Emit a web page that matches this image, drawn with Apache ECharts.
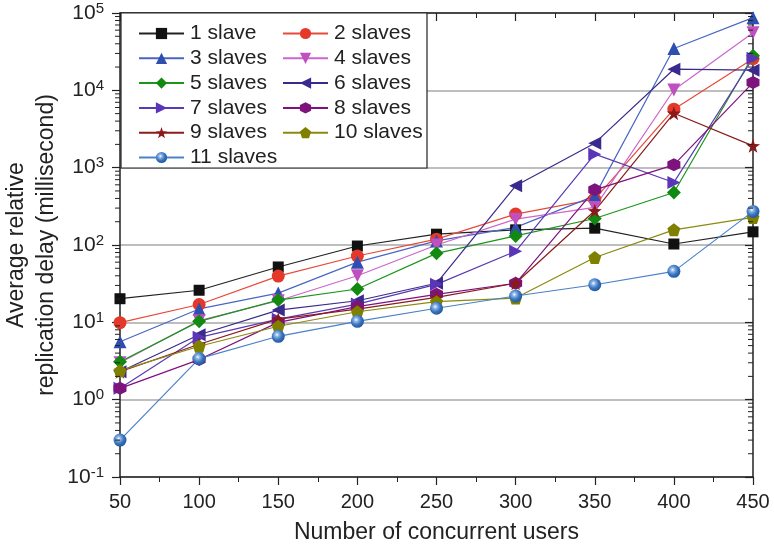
<!DOCTYPE html>
<html><head><meta charset="utf-8">
<script src="https://cdn.jsdelivr.net/npm/echarts@6/dist/echarts.min.js"></script>
<style>html,body{margin:0;padding:0;background:#fff}#c{width:774px;height:550px}</style>
</head><body><div id="c"></div>
<script>
var users = [50, 100, 150, 200, 250, 300, 350, 400, 450];
var s1 = [20.2, 26, 52, 97, 138, 157, 165, 103, 148];
var s2 = [9.9, 17, 39.6, 72, 119, 251, 392, 5700, 25700];
var s3 = [5.6, 14.9, 23.9, 60, 113, 169, 432, 34700, 87000];
var s4 = [3.0, 10.5, 19, 40, 100, 216, 306, 10100, 55700];
var s5 = [3.1, 10.3, 19.4, 27, 78, 131, 220, 478, 28000];
var s6 = [2.3, 6.9, 14.4, 19, 32, 582, 2074, 18750, 18200];
var s7 = [1.4, 6.4, 11, 17.2, 31, 83, 1494, 644, 26000];
var s8 = [1.4, 3.3, 10, 16, 23, 32, 517, 1087, 12600];
var s9 = [2.3, 5.2, 11, 14.8, 21, 32, 277, 5060, 1914];
var s10 = [2.37, 4.9, 8.9, 13.7, 18.5, 20.6, 69, 157, 227];
var s11 = [0.3, 3.4, 6.6, 10.3, 15.2, 21.9, 30.6, 45.6, 272];
var names = ['1 slave','2 slaves','3 slaves','4 slaves','5 slaves','6 slaves','7 slaves','8 slaves','9 slaves','10 slaves','11 slaves'];
var minorMultipliers = [2,3,4,5,6,7,8,9];
var decades = [0.1, 1, 10, 100, 1000, 10000];

var SYM = {
  star: 'path://M0,-10 L2.35,-3.24 L9.51,-3.09 L3.8,1.24 L5.88,8.09 L0,4 L-5.88,8.09 L-3.8,1.24 L-9.51,-3.09 L-2.35,-3.24 Z',
  pent: 'path://M0,-10 L9.51,-3.09 L5.88,8.09 L-5.88,8.09 L-9.51,-3.09 Z',
  hex: 'path://M0,-10 L8.66,-5 L8.66,5 L0,10 L-8.66,5 L-8.66,-5 Z',
  down: 'path://M-10,-8 L10,-8 L0,9 Z',
  left: 'path://M-9,0 L8,-10 L8,10 Z',
  right: 'path://M9,0 L-8,-10 L-8,10 Z'
};
var sphere = {type:'radial', x:0.4, y:0.38, r:0.65, colorStops:[
  {offset:0, color:'#ffffff'},{offset:0.22, color:'#8fb8e6'},{offset:0.6, color:'#3a74bf'},{offset:1, color:'#1f569c'}]};
var styles = [
  {line:'#222222', mark:'#111111', sym:'rect', size:11},
  {line:'#e84a3a', mark:'#e4392a', sym:'circle', size:13},
  {line:'#4a66c4', mark:'#2e4fb0', sym:'triangle', size:13},
  {line:'#cc66cc', mark:'#c050c0', sym:SYM.down, size:13},
  {line:'#1a961a', mark:'#128a12', sym:'diamond', size:14},
  {line:'#3a2a8a', mark:'#3a2a8e', sym:SYM.left, size:13},
  {line:'#5a3ab5', mark:'#5b35b8', sym:SYM.right, size:13},
  {line:'#801080', mark:'#7d147d', sym:SYM.hex, size:13},
  {line:'#8a1c1c', mark:'#8a1a1a', sym:SYM.star, size:14},
  {line:'#8a8a10', mark:'#7f7f00', sym:SYM.pent, size:13},
  {line:'#4a82c8', mark:sphere, sym:'circle', size:13}
];
var all = [s1,s2,s3,s4,s5,s6,s7,s8,s9,s10,s11];

var series = all.map(function(arr, i){
  var st = styles[i];
  return {
    name: names[i], type:'line', xAxisIndex:0, yAxisIndex:0,
    data: users.map(function(u,j){return [u, arr[j]];}),
    symbol: st.sym, symbolSize: st.size,
    lineStyle:{color:st.line, width:1.2},
    itemStyle:{color:st.mark, borderWidth:0},
    emphasis:{disabled:true}, animation:false, z: 2
  };
});

var minorData = [];
decades.forEach(function(d){ minorMultipliers.forEach(function(m){ minorData.push([50, m*d]); }); });
series.push({
  type:'custom', xAxisIndex:0, yAxisIndex:0, silent:true, clip:false, z:5, animation:false,
  data: minorData,
  renderItem: function(params, api){
    var v = api.value(1);
    var pL = api.coord([50, v]), pR = api.coord([450, v]);
    return {type:'group', children:[
      {type:'line', shape:{x1:pL[0], y1:pL[1], x2:pL[0]-5, y2:pL[1]}, style:{stroke:'#222', lineWidth:1}},
      {type:'line', shape:{x1:pR[0], y1:pR[1], x2:pR[0]-5, y2:pR[1]}, style:{stroke:'#222', lineWidth:1}}
    ]};
  }
});

var FONT = 'Liberation Sans, Arial, sans-serif';
var yLabelFmt = function(v){
  var e = Math.round(Math.log10(v));
  return '{b|10}{s|' + e + '}';
};
var axisLineStyle = {color:'#222', width:1.5};

var chart = echarts.init(document.getElementById('c'), null, {renderer:'canvas'});
chart.setOption({
  animation:false,
  backgroundColor:'#fff',
  textStyle:{fontFamily:FONT},
  grid:{left:120, right:21, top:13, bottom:73, containLabel:false, outerBoundsMode:'none'},
  xAxis:[{
    type:'value', min:50, max:450, interval:50, position:'bottom',
    name:'Number of concurrent users', nameLocation:'middle', nameGap:44, nameMoveOverlap:false,
    nameTextStyle:{fontSize:23, color:'#222', fontFamily:FONT},
    axisLine:{show:true, lineStyle:axisLineStyle},
    axisTick:{show:true, inside:false, length:8, lineStyle:{color:'#222', width:1.2}},
    minorTick:{show:true, splitNumber:2, length:5, lineStyle:{color:'#222', width:1}},
    axisLabel:{fontSize:20, color:'#222', margin:15, fontFamily:FONT},
    splitLine:{show:false}
  },{
    type:'value', min:50, max:450, interval:50, position:'top',
    axisLine:{show:true, lineStyle:axisLineStyle},
    axisTick:{show:true, inside:true, length:8, lineStyle:{color:'#222', width:1.2}},
    minorTick:{show:true, splitNumber:2, length:5, lineStyle:{color:'#222', width:1}},
    axisLabel:{show:false}, splitLine:{show:false}
  }],
  yAxis:[{
    type:'log', logBase:10, min:0.1, max:100000, position:'left',
    name:'Average relative\nreplication delay (millisecond)', nameLocation:'middle', nameGap:58, nameRotate:90, nameMoveOverlap:false,
    nameTextStyle:{fontSize:23, color:'#222', lineHeight:30, fontFamily:FONT},
    axisLine:{show:true, lineStyle:axisLineStyle},
    axisTick:{show:true, inside:false, length:8, lineStyle:{color:'#222', width:1.2}},
    axisLabel:{formatter:yLabelFmt, margin:16, color:'#222',
      rich:{b:{fontSize:21, color:'#222', fontFamily:FONT}, s:{fontSize:15, color:'#222', fontFamily:FONT, padding:[0,0,9,0]}}},
    splitLine:{show:true, lineStyle:{color:'#a8a8a8', width:1.5}}
  },{
    type:'log', logBase:10, min:0.1, max:100000, position:'right',
    axisLine:{show:true, lineStyle:axisLineStyle},
    axisTick:{show:true, inside:true, length:8, lineStyle:{color:'#222', width:1.2}},
    axisLabel:{show:false}, splitLine:{show:false}
  }],
  graphic:[{type:'rect', shape:{x:121, y:13, width:306, height:155}, style:{fill:'#fff', stroke:'#222', lineWidth:1.2}, z:3, silent:true}],
  legend:[{
    data:['1 slave','3 slaves','5 slaves','7 slaves','9 slaves','11 slaves'],
    orient:'vertical', left:133, top:18, itemWidth:45, itemHeight:14, itemGap:3.8, z:4,
    textStyle:{fontSize:21, lineHeight:21, color:'#222', fontFamily:FONT, padding:[0,0,0,1]}, selectedMode:false
  },{
    data:['2 slaves','4 slaves','6 slaves','8 slaves','10 slaves'],
    orient:'vertical', left:277, top:18, itemWidth:45, itemHeight:14, itemGap:3.8, z:4,
    textStyle:{fontSize:21, lineHeight:21, color:'#222', fontFamily:FONT, padding:[0,0,0,1]}, selectedMode:false
  }],
  series: series
});
</script></body></html>
